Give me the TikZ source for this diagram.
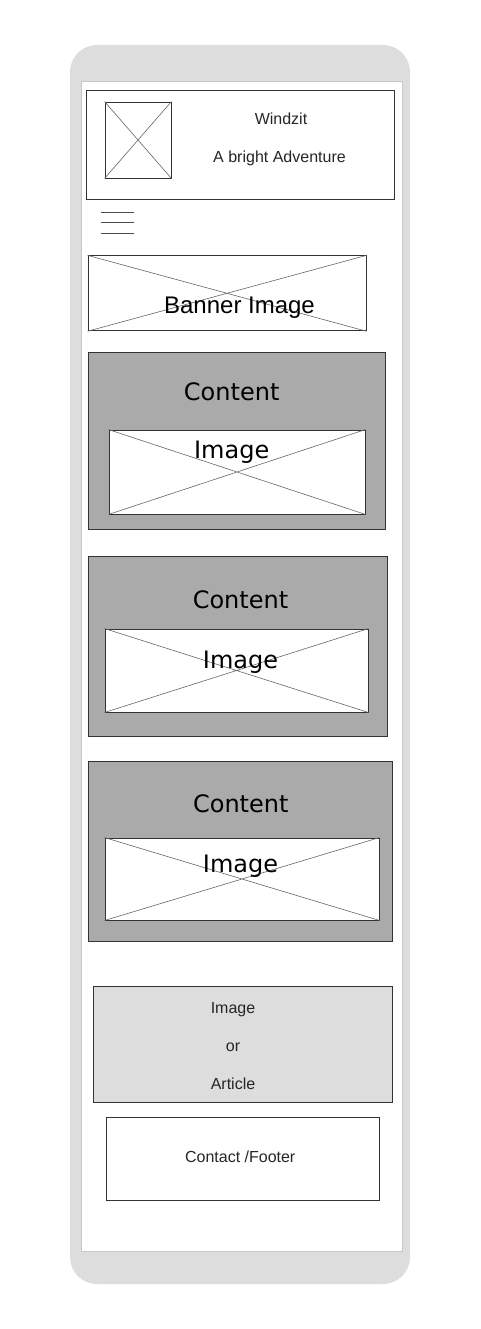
\documentclass[tikz,border=0pt]{standalone}
\usepackage{fontspec}
\setmainfont{Liberation Sans}
\newfontfamily\contentfont{DejaVu Sans}
\usepackage{tikz}
\definecolor{phonegray}{HTML}{DDDDDD}
\definecolor{blockgray}{HTML}{AAAAAA}
\definecolor{edgegray}{HTML}{333333}
\definecolor{screenedge}{HTML}{C8C8C8}
\tikzstyle{phone} = [rectangle, rounded corners=27pt, fill=phonegray, draw=none, inner sep=0pt]
\tikzstyle{screen} = [rectangle, fill=white, draw=screenedge, line width=0.8pt, inner sep=0pt]
\tikzstyle{wirebox} = [rectangle, draw=edgegray, line width=0.9pt, inner sep=0pt]
\tikzstyle{imgbox} = [wirebox, fill=white]
\tikzstyle{cross} = [draw=black!60, line width=0.6pt]
\tikzstyle{menuline} = [draw=black!70, line width=0.8pt]
\tikzstyle{smalltext} = [font=\fontsize{16}{19}\selectfont, text=black!85, anchor=base, inner sep=0pt]
\tikzstyle{bigtext} = [font=\contentfont\fontsize{24}{28}\selectfont, anchor=base, inner sep=0pt]

\begin{document}
\begin{tikzpicture}[x=1pt, y=-1pt]
	\path[fill=white, use as bounding box] (0,0) rectangle (480,1329);
	% phone frame and screen
	\node [phone, minimum width=340pt, minimum height=1239pt] (phone) at (240,664.5) {};
	\node [screen, minimum width=321pt, minimum height=1170pt] (screen) at (241.5,666) {};
	% header
	\node [wirebox, minimum width=308pt, minimum height=109pt] (header) at (240,144.5) {};
	\node [imgbox, minimum width=66pt, minimum height=76pt] (logo) at (138,140) {};
	\node [smalltext] (title) at (281,124.3) {Windzit};
	\node [smalltext] (slogan) at (279.5,162.7) {A bright Adventure};
	% menu
	\foreach \y in {212.5,222.5,233}
		\draw [menuline] (101,\y) -- (134,\y);
	% banner
	\node [imgbox, minimum width=278pt, minimum height=75pt] (banner) at (227,293.3) {};
	% content blocks
	\node [wirebox, fill=blockgray, minimum width=297pt, minimum height=177pt] (contentA) at (236.5,440.5) {};
	\node [imgbox, minimum width=256pt, minimum height=84pt] (imgA) at (237,472) {};
	\node [wirebox, fill=blockgray, minimum width=299pt, minimum height=180pt] (contentB) at (237.5,646) {};
	\node [imgbox, minimum width=263pt, minimum height=83pt] (imgB) at (236.5,670.5) {};
	\node [wirebox, fill=blockgray, minimum width=304pt, minimum height=180pt] (contentC) at (240,851) {};
	\node [imgbox, minimum width=274pt, minimum height=82pt] (imgC) at (242,879) {};
	% image placeholders
	\foreach \img in {logo,banner,imgA,imgB,imgC}
		\draw [cross] (\img.north west) -- (\img.south east) (\img.north east) -- (\img.south west);
	\node [smalltext, font=\fontsize{24}{28}\selectfont, text=black] (bannertext) at (239.5,313) {Banner Image};
	\node [bigtext] (headA) at (231.7,400) {Content};
	\node [bigtext] (textA) at (231.7,458) {Image};
	\node [bigtext] (headB) at (240.5,608) {Content};
	\node [bigtext] (textB) at (240.5,668) {Image};
	\node [bigtext] (headC) at (240.8,812) {Content};
	\node [bigtext] (textC) at (240.5,872) {Image};
	% article and footer
	\node [wirebox, fill=phonegray, minimum width=299.4pt, minimum height=116.3pt] (article) at (243,1044.2) {};
	\node [smalltext] (artA) at (233,1013) {Image};
	\node [smalltext] (artB) at (233,1051.7) {or};
	\node [smalltext] (artC) at (233,1089) {Article};
	\node [wirebox, minimum width=273.7pt, minimum height=82.7pt] (footer) at (242.9,1158.7) {};
	\node [smalltext] (footertext) at (240.2,1162.3) {Contact /Footer};
\end{tikzpicture}
\end{document}
